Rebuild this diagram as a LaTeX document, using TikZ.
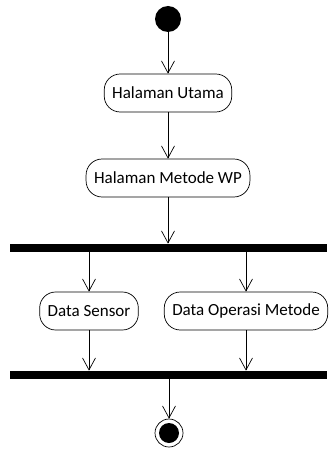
\documentclass[tikz,border=0pt]{standalone}
\usepackage{fontspec}
\setmainfont{Carlito}
\usetikzlibrary{arrows.meta}
\tikzstyle{every path}=[line width=0.7pt, line join=round]
\tikzstyle{aksi}=[draw, rounded corners=16pt, minimum height=38pt, inner xsep=8pt, font=\fontsize{17}{19}\selectfont]
\tikzstyle{bar}=[fill=black, minimum width=317pt, minimum height=8pt, inner sep=0pt]
\tikzstyle{panah}=[-{Straight Barb[length=12pt, width=13pt]}]

\begin{document}
\begin{tikzpicture}[x=1pt, y=-1pt]
        \useasboundingbox (0,0) rectangle (329,449);
        %awal
        \node[circle, fill=black, minimum size=26pt, inner sep=0pt] (awal) at (168,19) {};
        %aktivitas
        \node[aksi] (utama) at (168,93) {Halaman Utama};
        \node[aksi] (metode) at (168,178) {Halaman Metode WP};
        %fork
        \node[bar] (fork) at (168.5,248) {};
        \node[aksi] (sensor) at (89,311) {Data Sensor};
        \node[aksi] (operasi) at (246,311) {Data Operasi Metode};
        %join
        \node[bar] (join) at (168.5,375) {};
        %akhir
        \node[circle, draw, minimum size=28pt, inner sep=0pt] (akhir) at (169,433) {};
        \node[circle, fill=black, minimum size=20pt, inner sep=0pt] (akhirdalam) at (akhir) {};
        %panah
        \draw[panah] (awal) -- (utama);
        \draw[panah] (utama) -- (metode);
        \draw[panah] (metode) -- (metode |- fork.north);
        \draw[panah] (sensor |- fork.south) -- (sensor);
        \draw[panah] (operasi |- fork.south) -- (operasi);
        \draw[panah] (sensor) -- (sensor |- join.north);
        \draw[panah] (operasi) -- (operasi |- join.north);
        \draw[panah] (join.south -| akhir) -- (akhir);
\end{tikzpicture}
\end{document}
